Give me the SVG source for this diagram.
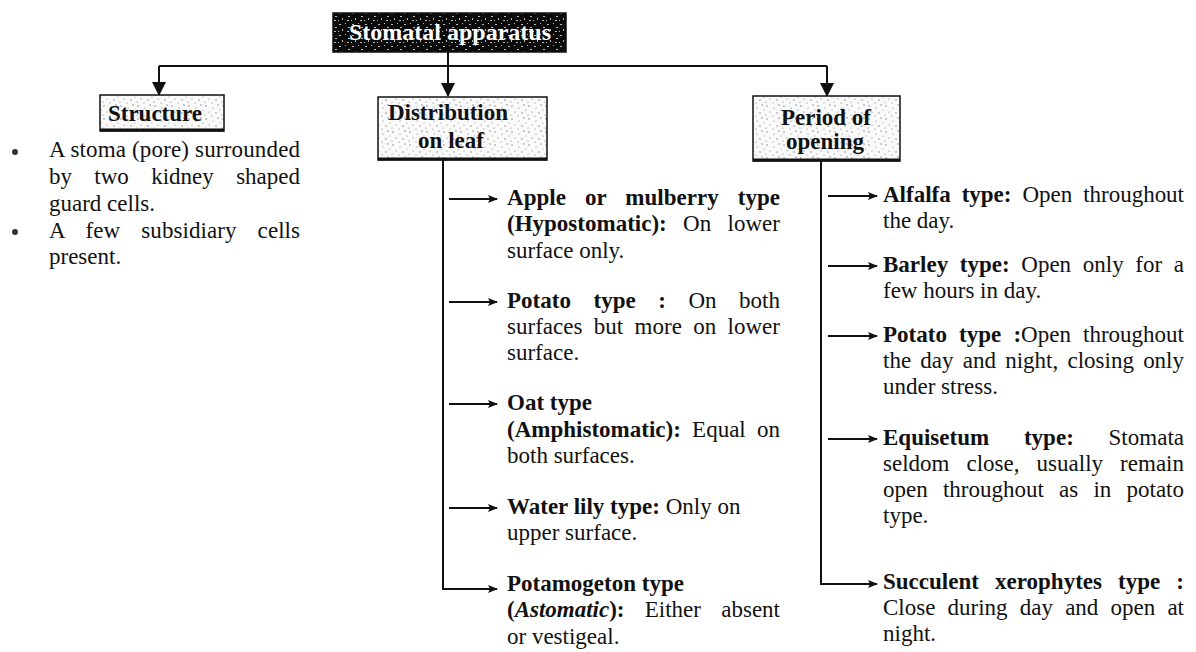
<svg xmlns="http://www.w3.org/2000/svg" width="1196" height="652" viewBox="0 0 1196 652">
<style>
.t{font-family:"Liberation Serif","Times New Roman",serif;font-size:23px;fill:#111}
.b{font-weight:bold}
.h{font-family:"Liberation Serif","Times New Roman",serif;font-size:23px;font-weight:bold;fill:#111;text-anchor:middle}
.ttl{font-family:"Liberation Serif","Times New Roman",serif;font-size:24px;font-weight:bold;fill:#fff;text-anchor:middle}
.ln{stroke:#111;stroke-width:2;fill:none}
.box{fill:url(#stip);stroke:#111;stroke-width:1.5}
</style>
<defs>
<pattern id="stip" width="17" height="13" patternUnits="userSpaceOnUse">
<rect width="17" height="13" fill="#fafafa"/>
<g fill="#777">
<circle cx="2" cy="2" r="0.7"/><circle cx="9" cy="4" r="0.6"/><circle cx="14" cy="1" r="0.7"/>
<circle cx="5" cy="8" r="0.6"/><circle cx="12" cy="9" r="0.7"/><circle cx="1" cy="11" r="0.6"/>
<circle cx="16" cy="6" r="0.5"/><circle cx="8" cy="12" r="0.6"/>
</g>
</pattern>
<pattern id="dstip" width="13" height="11" patternUnits="userSpaceOnUse">
<rect width="13" height="11" fill="#0a0a0a"/>
<g fill="#bbb">
<rect x="1" y="2" width="2" height="1"/><rect x="7" y="1" width="1" height="1"/><rect x="10" y="5" width="2" height="1"/>
<rect x="4" y="7" width="1" height="2"/><rect x="9" y="9" width="2" height="1"/><rect x="0" y="9" width="1" height="1"/>
</g>
</pattern>
<marker id="ah" viewBox="0 0 10 8" refX="9" refY="4" markerWidth="10" markerHeight="8" markerUnits="userSpaceOnUse" orient="auto">
<path d="M0,0 L10,4 L0,8 L2,4 z" fill="#111"/>
</marker>
<marker id="ad" viewBox="0 0 14 14" refX="13" refY="7" markerWidth="14" markerHeight="14" markerUnits="userSpaceOnUse" orient="auto">
<path d="M0,0 L14,7 L0,14 z" fill="#111"/>
</marker>
</defs>
<rect width="1196" height="652" fill="#fff"/>

<g id="connectors">
<path class="ln" d="M448,52 V96" marker-end="url(#ad)"/>
<path class="ln" d="M159,66 H827"/>
<path class="ln" d="M159,66 V95" marker-end="url(#ad)"/>
<path class="ln" d="M827,66 V96" marker-end="url(#ad)"/>
<path class="ln" d="M443,160 V589 H497" marker-end="url(#ah)"/>
<path class="ln" d="M449,199 H497" marker-end="url(#ah)"/>
<path class="ln" d="M449,302 H497" marker-end="url(#ah)"/>
<path class="ln" d="M449,404 H497" marker-end="url(#ah)"/>
<path class="ln" d="M449,508 H497" marker-end="url(#ah)"/>
<path class="ln" d="M821,161 V584 H877" marker-end="url(#ah)"/>
<path class="ln" d="M828,196 H877" marker-end="url(#ah)"/>
<path class="ln" d="M828,266 H877" marker-end="url(#ah)"/>
<path class="ln" d="M828,336 H877" marker-end="url(#ah)"/>
<path class="ln" d="M828,439 H877" marker-end="url(#ah)"/>
</g>

<g id="title">
<rect x="333" y="13" width="233" height="39" fill="url(#dstip)" stroke="#111" stroke-width="1.5"/>
<text class="ttl" x="450" y="40">Stomatal apparatus</text>
</g>

<g id="structure">
<rect class="box" x="100" y="95" width="124" height="36"/>
<path d="M100,130 H224" stroke="#111" stroke-width="3"/>
<text class="h" x="155" y="121">Structure</text>
</g>

<g id="distribution">
<rect class="box" x="378" y="97" width="169" height="63"/>
<path d="M378,159 H547" stroke="#111" stroke-width="3"/>
<text class="h" x="448" y="120">Distribution</text>
<text class="h" x="451" y="148">on leaf</text>
</g>

<g id="period">
<rect class="box" x="753" y="96" width="147" height="65"/>
<path d="M753,160 H900" stroke="#111" stroke-width="3"/>
<text class="h" x="826" y="125">Period of</text>
<text class="h" x="825" y="149">opening</text>
</g>

<g id="structure-text">
<circle cx="15" cy="152" r="3" fill="#333"/>
<circle cx="15" cy="232" r="3" fill="#333"/>
<text class="t" x="49" y="157" textLength="251" lengthAdjust="spacing">A stoma (pore) surrounded</text>
<text class="t" x="49" y="184" word-spacing="16.6" textLength="251" lengthAdjust="spacing">by two kidney shaped</text>
<text class="t" x="49" y="211">guard cells.</text>
<text class="t" x="49" y="238" word-spacing="15.3" textLength="251" lengthAdjust="spacing">A few subsidiary cells</text>
<text class="t" x="49" y="264">present.</text>
</g>

<g id="distribution-items">
<text class="t b" x="507" y="205" word-spacing="13.3" textLength="273" lengthAdjust="spacing">Apple or mulberry type</text>
<text class="t" x="507" y="231" word-spacing="10.6" textLength="273" lengthAdjust="spacing"><tspan class="b">(Hypostomatic):</tspan> On lower</text>
<text class="t" x="507" y="258">surface only.</text>
<text class="t" x="507" y="308" word-spacing="16.8" textLength="273" lengthAdjust="spacing"><tspan class="b">Potato type :</tspan> On both</text>
<text class="t" x="507" y="334" word-spacing="5.6" textLength="273" lengthAdjust="spacing">surfaces but more on lower</text>
<text class="t" x="507" y="360">surface.</text>
<text class="t b" x="507" y="410">Oat type</text>
<text class="t" x="507" y="437" word-spacing="5.5" textLength="273" lengthAdjust="spacing"><tspan class="b">(Amphistomatic):</tspan> Equal on</text>
<text class="t" x="507" y="463">both surfaces.</text>
<text class="t" x="507" y="514"><tspan class="b">Water lily type:</tspan> Only on</text>
<text class="t" x="507" y="540">upper surface.</text>
<text class="t b" x="507" y="591">Potamogeton type</text>
<text class="t" x="507" y="617" word-spacing="14.5" textLength="273" lengthAdjust="spacing"><tspan class="b">(<tspan font-style="italic">Astomatic</tspan>):</tspan> Either absent</text>
<text class="t" x="507" y="644">or vestigeal.</text>
</g>

<g id="period-items">
<text class="t" x="883" y="202" word-spacing="5.2" textLength="301" lengthAdjust="spacing"><tspan class="b">Alfalfa type:</tspan> Open throughout</text>
<text class="t" x="883" y="228">the day.</text>
<text class="t" x="883" y="272" word-spacing="5.9" textLength="301" lengthAdjust="spacing"><tspan class="b">Barley type:</tspan> Open only for a</text>
<text class="t" x="883" y="298">few hours in day.</text>
<text class="t" x="883" y="342" word-spacing="6.4" textLength="301" lengthAdjust="spacing"><tspan class="b">Potato type :</tspan>Open throughout</text>
<text class="t" x="883" y="368" word-spacing="3.5" textLength="301" lengthAdjust="spacing">the day and night, closing only</text>
<text class="t" x="883" y="394">under stress.</text>
<text class="t" x="883" y="445" word-spacing="29" textLength="301" lengthAdjust="spacing"><tspan class="b">Equisetum type:</tspan> Stomata</text>
<text class="t" x="883" y="471" word-spacing="11.3" textLength="301" lengthAdjust="spacing">seldom close, usually remain</text>
<text class="t" x="883" y="497" word-spacing="9.5" textLength="301" lengthAdjust="spacing">open throughout as in potato</text>
<text class="t" x="883" y="523">type.</text>
<text class="t b" x="883" y="589" word-spacing="10.3" textLength="301" lengthAdjust="spacing">Succulent xerophytes type :</text>
<text class="t" x="883" y="615" word-spacing="6.4" textLength="301" lengthAdjust="spacing">Close during day and open at</text>
<text class="t" x="883" y="641">night.</text>
</g>
</svg>
